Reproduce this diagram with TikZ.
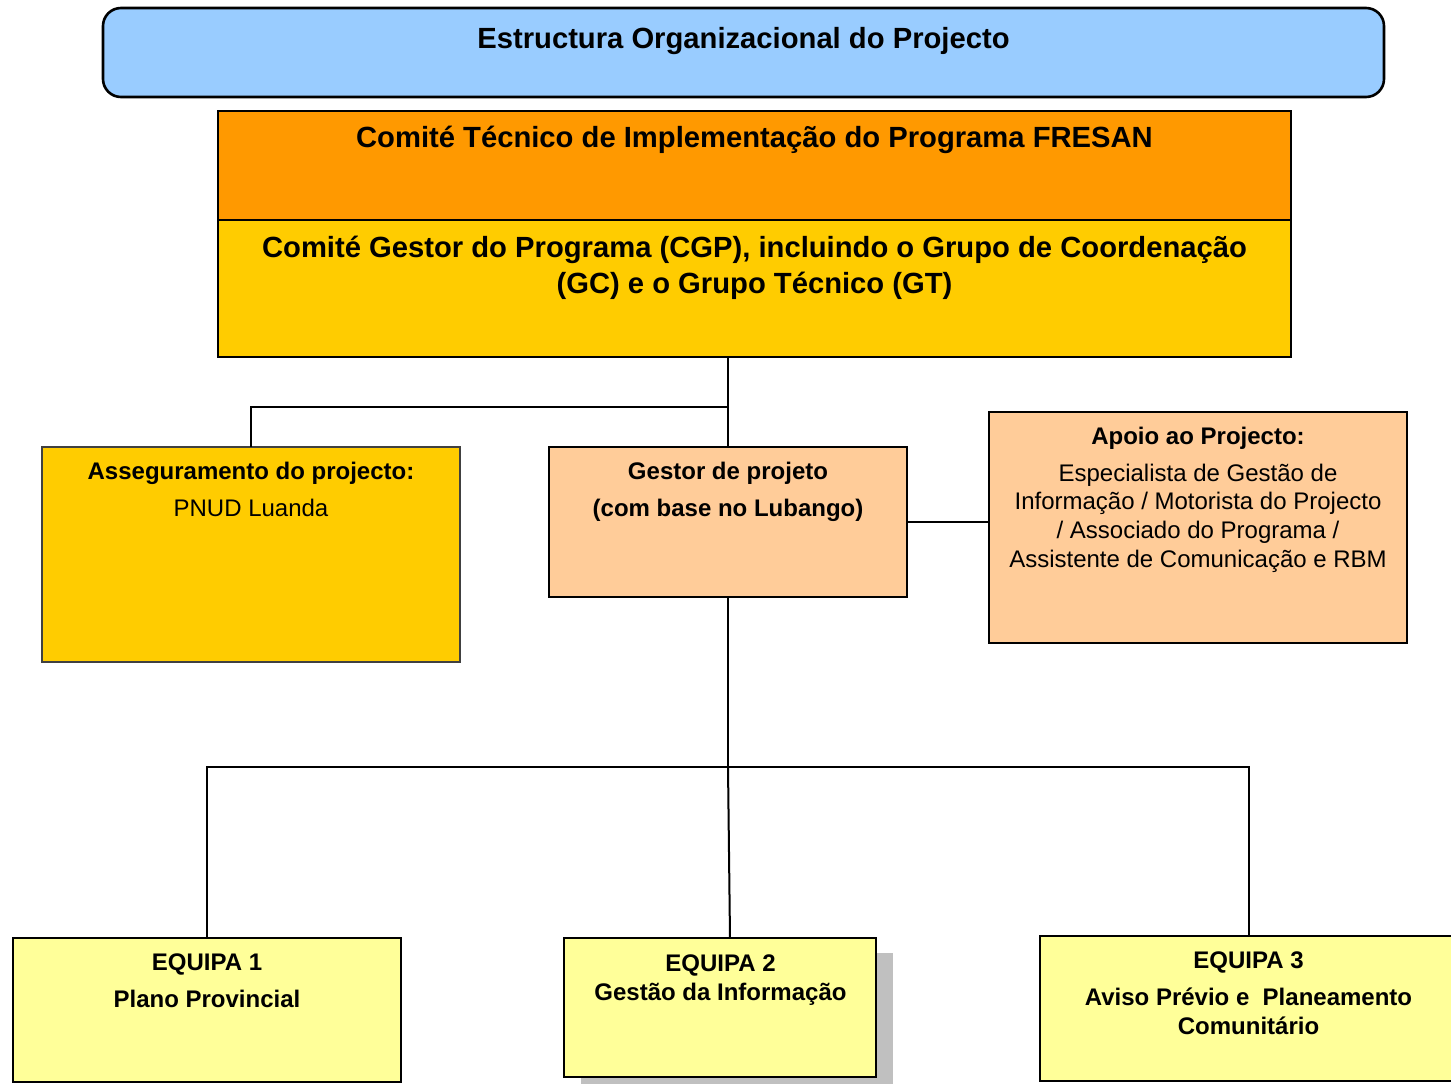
\documentclass[tikz,border=0pt]{standalone}
\usepackage{fontspec}
\setmainfont{Liberation Sans}
\definecolor{cblue}{HTML}{99CCFF}
\definecolor{corange}{HTML}{FF9900}
\definecolor{cgold}{HTML}{FFCC00}
\definecolor{cpeach}{HTML}{FFCC99}
\definecolor{cyel}{HTML}{FFFF99}
\definecolor{cshadow}{HTML}{C0C0C0}
\begin{document}
\begin{tikzpicture}[x=1pt,y=-1pt,
  box/.style={draw=black, line width=2pt, rectangle, anchor=north west, inner sep=0pt, outer sep=0pt},
  big/.style={font=\fontsize{29.2}{35}\selectfont\bfseries, anchor=base, inner sep=0pt},
  sb/.style={font=\fontsize{24}{29}\selectfont\bfseries, anchor=base, inner sep=0pt},
  sr/.style={font=\fontsize{24}{29}\selectfont, anchor=base, inner sep=0pt},
  con/.style={draw=black, line width=2pt}]
\useasboundingbox (0,0) rectangle (1451,1084);
\clip (0,0) rectangle (1451,1084);
\fill[white] (0,0) rectangle (1451,1084);

% title
\node[box, line width=2.6pt, rounded corners=18pt, fill=cblue, minimum width=1281pt, minimum height=89pt] (title) at (103,8) {};
\node[big] (titletxt) at (743.5,48) {Estructura Organizacional do Projecto};

% committees
\node[box, fill=corange, minimum width=1073pt, minimum height=109pt] (ctip) at (218,111) {};
\node[big] (ctiptxt) at (754.5,147) {Comité Técnico de Implementação do Programa FRESAN};
\node[box, fill=cgold, minimum width=1073pt, minimum height=137pt] (cgp) at (218,220) {};
\node[big] (cgptxta) at (754.5,257) {Comité Gestor do Programa (CGP), incluindo o Grupo de Coordenação};
\node[big] (cgptxtb) at (754.5,293) {(GC) e o Grupo Técnico (GT)};

% middle row
\node[box, draw=black!75, fill=cgold, minimum width=418pt, minimum height=215pt] (asseg) at (42,447) {};
\node[sb] (assegtxta) at (251,479) {Asseguramento do projecto:};
\node[sr] (assegtxtb) at (251,516) {PNUD Luanda};

\node[box, fill=cpeach, minimum width=358pt, minimum height=150pt] (gestor) at (549,447) {};
\node[sb] (gestortxta) at (728,479) {Gestor de projeto};
\node[sb] (gestortxtb) at (728,516) {(com base no Lubango)};

\node[box, fill=cpeach, minimum width=418pt, minimum height=231pt] (apoio) at (989,412) {};
\node[sb] (apoiotxta) at (1198,444) {Apoio ao Projecto:};
\node[sr] (apoiotxtb) at (1198,481) {Especialista de Gestão de};
\node[sr] (apoiotxtc) at (1198,509) {Informação / Motorista do Projecto};
\node[sr] (apoiotxtd) at (1198,538) {/ Associado do Programa /};
\node[sr] (apoiotxte) at (1198,567) {Assistente de Comunicação e RBM};

% teams
\node[box, fill=cyel, minimum width=388pt, minimum height=144pt] (eq1) at (13,938) {};
\node[sb] (eq1txta) at (207,970) {EQUIPA 1};
\node[sb] (eq1txtb) at (207,1007) {Plano Provincial};

\fill[cshadow] (581,953) rectangle (893,1084);
\node[box, fill=cyel, minimum width=312pt, minimum height=139pt] (eq2) at (564,938) {};
\node[sb] (eq2txta) at (720.5,971) {EQUIPA 2};
\node[sb] (eq2txtb) at (720.5,1000) {Gestão da Informação};

\node[box, fill=cyel, minimum width=417pt, minimum height=145pt] (eq3) at (1040,936) {};
\node[sb] (eq3txta) at (1248.5,968) {EQUIPA 3};
\node[sb] (eq3txtb) at (1248.5,1005) {Aviso Prévio e\ \ Planeamento};
\node[sb] (eq3txtc) at (1248.5,1034) {Comunitário};

% connectors
\coordinate (j1) at (gestor.north |- 0,407);
\coordinate (j2) at (gestor.south |- 0,767);
\coordinate (eq2top) at (730,938);
\draw[con] (cgp.south -| gestor.north) -- (gestor.north);
\draw[con] (j1) -| (asseg.north);
\draw[con] (gestor.east) -- (apoio.west |- gestor.east);
\draw[con] (gestor.south) -- (j2);
\draw[con] (eq1.north) |- (j2) -| (eq3.north);
\draw[con] (j2) -- (eq2top);
\end{tikzpicture}
\end{document}
